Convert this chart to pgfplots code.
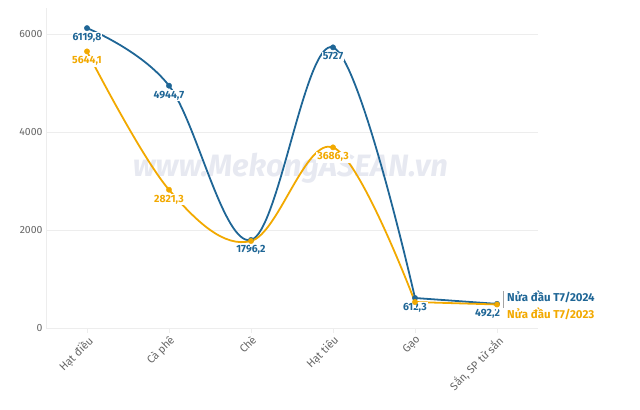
\documentclass[border=0pt]{standalone}
\usepackage{pgfplots}
\pgfplotsset{compat=1.18}
\usepackage{fontspec}
\setmainfont{Fira Sans}
\definecolor{c24}{HTML}{1F6696}
\definecolor{c23}{HTML}{F2A900}
\definecolor{gridc}{HTML}{EDEDED}
\definecolor{tickc}{HTML}{666666}
\definecolor{wm}{HTML}{E7E9F1}

\pgfplotstableread{
x y lab
0 6119.8 {6119,8}
1 4944.7 {4944,7}
2 1796.2 {1796,2}
3 5727 {5727}
4 612.3 {612,3}
5 492.2 {}
}\tabA
\pgfplotstableread{
x y lab
0 5644.1 {5644,1}
1 2821.3 {2821,3}
2 1775 {}
3 3686.3 {3686,3}
4 530 {}
5 480 {}
}\tabB

\begin{document}
\begin{tikzpicture}
\useasboundingbox (0,0) rectangle (640bp,410bp);
\begin{axis}[
    at={(46bp,82bp)}, anchor=south west,
    width=492bp, height=320bp, scale only axis,
    xmin=-0.5, xmax=5.5, ymin=0, ymax=6530,
    xtick={0,...,5},
    xticklabels={Hạt điều, Cà phê, Chè, Hạt tiêu, Gạo, {Sắn, SP từ sắn}},
    xticklabel style={rotate=45, anchor=north east, font=\fontsize{11}{13}\selectfont, text=tickc, inner sep=1pt},
    ytick={0,2000,4000,6000},
    yticklabel style={font=\fontsize{10.5}{12}\selectfont, text=tickc},
    /pgf/number format/assume math mode=true,
    /pgf/number format/1000 sep={},
    ymajorgrids, grid style={gridc, line width=0.8pt},
    axis x line*=bottom, axis y line*=left,
    axis line style={gridc, line width=0.8pt},
    x axis line style={-}, y axis line style={-},
    xtick style={gridc, line width=0.8pt},
    ytick style={draw=none},
    xtick align=outside, major tick length=5bp,
    clip=false,
    every node near coord/.append style={anchor=north, yshift=-4bp, fill=white, inner sep=1pt, font=\bfseries\fontsize{10.5}{12}\selectfont},
]
\node[font=\bfseries\itshape\fontsize{31}{34}\selectfont, text=wm] at (axis cs:2.48,3265) {www.MekongASEAN.vn};
% lines
\addplot[c24, line width=1.8pt, smooth, tension=0.6, restrict x to domain=0:4] table[x=x, y=y] {\tabA};
\addplot[c24, line width=1.8pt, restrict x to domain=4:5] table[x=x, y=y] {\tabA};
\addplot[c23, line width=1.8pt, smooth, tension=0.6, restrict x to domain=0:4] table[x=x, y=y] {\tabB};
\addplot[c23, line width=1.8pt, restrict x to domain=4:5] table[x=x, y=y] {\tabB};
% markers and data labels
\addplot[only marks, mark=*, mark size=2.7pt, c24, nodes near coords={\pgfplotspointmeta}, point meta=explicit symbolic,
  every node near coord/.append style={text=c24}] table[x=x, y=y, meta=lab] {\tabA};
\addplot[only marks, mark=*, mark size=2.7pt, c23, nodes near coords={\pgfplotspointmeta}, point meta=explicit symbolic,
  every node near coord/.append style={text=c23}] table[x=x, y=y, meta=lab] {\tabB};
\node[text=c24, fill=white, font=\bfseries\fontsize{10.5}{12}\selectfont, anchor=north east, inner sep=1pt] at (axis cs:5.05,400) {492,2};
\draw[tickc!60, line width=0.6pt] (axis cs:5.08,760) -- (axis cs:5.08,400);
\node[text=c24, font=\bfseries\fontsize{11.5}{13}\selectfont, anchor=west, inner sep=1pt] at (axis cs:5.11,632) {Nửa đầu T7/2024};
\node[text=c23, font=\bfseries\fontsize{11.5}{13}\selectfont, anchor=west, inner sep=1pt] at (axis cs:5.11,286) {Nửa đầu T7/2023};
\end{axis}
\end{tikzpicture}
\end{document}
